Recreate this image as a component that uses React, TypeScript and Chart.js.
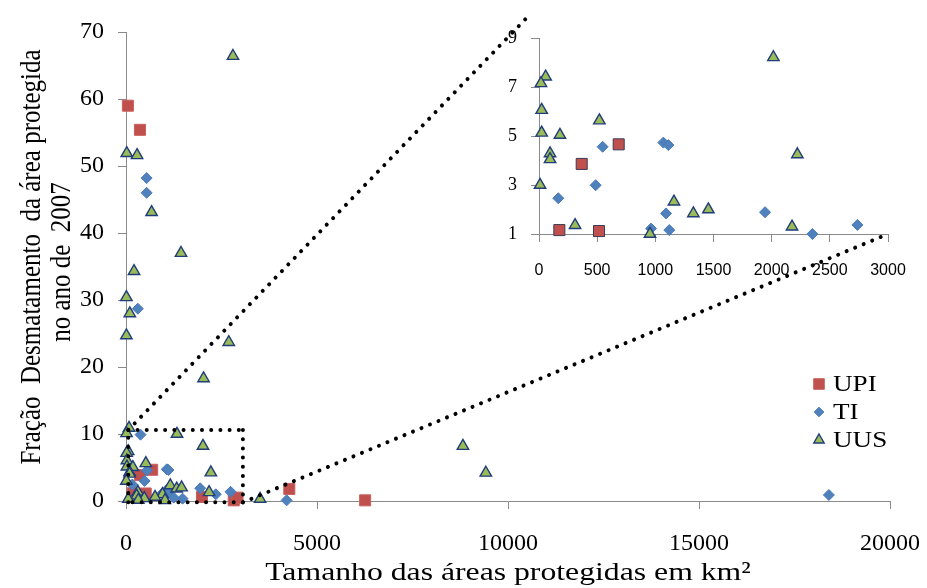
import React, { useEffect, useRef } from 'react';
import { Chart, registerables } from 'chart.js';
import { drawPoint } from 'chart.js/helpers';

Chart.register(...registerables);

// ---- data ----
const seriesNames = ['UPI', 'TI', 'UUS'];
const xTickValues = [0, 5000, 10000, 15000, 20000];
const yTickValues = [0, 10, 20, 30, 40, 50, 60, 70];
const insetXTickValues = [0, 500, 1000, 1500, 2000, 2500, 3000];
const insetYTickValues = [1, 3, 5, 7, 9];

const upiX = [50, 366, 175, 367, 516, 685, 1990, 2820, 2920, 4275, 6260];
const upiY = [59.0, 55.4, 1.16, 3.86, 1.12, 4.66, 0.6, 0.1, 0.5, 1.8, 0.1];

const tiX = [540, 540, 310, 380, 166, 487, 547, 963, 1069, 1112, 1092, 1120, 1943, 2350, 2737, 1480, 1250, 4205, 18400];
const tiY = [48.2, 46.0, 28.7, 9.9, 2.46, 2.99, 4.56, 1.22, 4.73, 4.63, 1.84, 1.16, 1.89, 1.0, 1.37, 0.35, 0.5, 0.1, 0.9];

const uusX = [2800, 20, 290, 670, 1440, 210, 10, 100, 10, 2690, 2030, 80, 15, 1335, 2015, 57, 17, 23, 23, 180, 95, 95, 9, 310, 519, 954, 1160, 1327, 1456, 2175, 2221, 3510, 8820, 9420, 280, 480, 760, 322, 1020, 60];
const uusY = [66.4, 51.9, 51.6, 43.1, 37.0, 34.3, 30.4, 28.0, 24.7, 23.7, 18.3, 10.9, 10.1, 10.0, 8.21, 7.42, 7.15, 6.06, 5.13, 5.04, 4.29, 4.05, 3.0, 1.36, 5.63, 1.0, 2.32, 1.84, 2.0, 1.3, 4.25, 0.3, 8.2, 4.2, 0.8, 0.4, 0.6, 0.15, 0.1, 0.3];

const yTitleLines = ['Fração  Desmatamento  da área protegida', 'no ano de  2007'];
const xTitle = 'Tamanho das áreas protegidas em km²';

// zoom box on main chart (main data coords) and connector ends (inset data coords)
const zoomBox = { x0: 60, x1: 3060, y0: -0.2, y1: 10.6 };
const connectTop = { x: -80, y: 9.95 };
const connectBottom = { x: 3000, y: 1 };

// ---- styles ----
const W = 927;
const H = 588;
const SERIF = '"Liberation Serif", "Times New Roman", serif';
const SANS = '"Liberation Sans", Arial, sans-serif';
const AXIS = '#8a8a8a';
const STRETCH = 1.18;
const TITLE_STRETCH = 1.22;

const styles = [
  { pointStyle: 'rect', radius: 7.8, bg: '#C0504D', border: '#C8605D', insetBorder: '#3A3A55', bw: 1, legendR: 7.5, order: 2 },
  { pointStyle: 'rectRot', radius: 5.5, bg: '#4F81BD', border: '#4A7AB8', insetBorder: '#4A7AB8', bw: 1, legendR: 4.8, order: 1 },
  { pointStyle: 'triangle', radius: 6.6, bg: '#9BBB59', border: '#1F3D7A', insetBorder: '#1F3D7A', bw: 1.4, legendR: 6, order: 0 },
];

const seriesX = [upiX, tiX, uusX];
const seriesY = [upiY, tiY, uusY];

const points = (i: number) => seriesX[i].map((x, k) => ({ x, y: seriesY[i][k] }));
const inInset = (p: { x: number; y: number }) => p.x <= 3000 && p.y >= 0.95 && p.y <= 9;

function makeDatasets(inset: boolean) {
  return seriesNames.map((name, i) => {
    const s = styles[i];
    const data = inset ? points(i).filter(inInset) : points(i);
    return {
      label: name,
      data,
      showLine: false,
      pointStyle: s.pointStyle,
      pointRadius: s.radius,
      pointHoverRadius: s.radius,
      pointBackgroundColor: s.bg,
      pointBorderColor: inset ? s.insetBorder : s.border,
      pointBorderWidth: s.bw,
      backgroundColor: s.bg,
      borderColor: inset ? s.insetBorder : s.border,
      clip: false as any,
      order: s.order,
    };
  });
}

const tickSetter = (vals: number[]) => (scale: any) => {
  scale.ticks = vals.map((v) => ({ value: v }));
};
const plain = (v: any) => String(v);
const noPadX = (h: number) => (s: any) => {
  s.height = h;
  s.paddingLeft = 0;
  s.paddingRight = 0;
};
const noPadY = (w: number) => (s: any) => {
  s.width = w;
  s.paddingTop = 0;
  s.paddingBottom = 0;
};

function stretchedText(ctx: CanvasRenderingContext2D, text: string, x: number, y: number, k: number) {
  ctx.save();
  ctx.translate(x, y);
  ctx.scale(k, 1);
  ctx.fillText(text, 0, 0);
  ctx.restore();
}

const mainDecor = {
  id: 'mainDecor',
  afterDraw(chart: any) {
    const ctx = chart.ctx as CanvasRenderingContext2D;
    const area = chart.chartArea;
    ctx.save();
    ctx.fillStyle = '#000';
    // y title (two rotated lines)
    ctx.font = `25px ${SERIF}`;
    ctx.textAlign = 'center';
    ctx.textBaseline = 'middle';
    const centers = [
      { x: 32, y: 257 },
      { x: 62, y: 262 },
    ];
    yTitleLines.forEach((t, i) => {
      ctx.save();
      ctx.translate(centers[i].x, centers[i].y);
      ctx.rotate(-Math.PI / 2);
      ctx.scale(1, STRETCH);
      ctx.fillText(t, 0, 0);
      ctx.restore();
    });
    // x title
    ctx.font = `26px ${SERIF}`;
    ctx.textBaseline = 'alphabetic';
    stretchedText(ctx, xTitle, (area.left + area.right) / 2, 580, TITLE_STRETCH);
    // legend
    const lx = 819;
    const ly = 384;
    const step = 28;
    ctx.font = `23px ${SERIF}`;
    ctx.textAlign = 'left';
    ctx.textBaseline = 'middle';
    seriesNames.forEach((name, i) => {
      const s = styles[i];
      ctx.fillStyle = s.bg;
      ctx.strokeStyle = s.border;
      ctx.lineWidth = s.bw;
      drawPoint(ctx, { pointStyle: s.pointStyle as any, radius: s.legendR, rotation: 0, borderWidth: s.bw }, lx, ly + i * step);
      ctx.fillStyle = '#000';
      stretchedText(ctx, name, lx + 14, ly + i * step + 1, STRETCH);
    });
    ctx.restore();
  },
};

export default function App() {
  const mainRef = useRef<HTMLCanvasElement>(null);
  const insetRef = useRef<HTMLCanvasElement>(null);

  useEffect(() => {
    document.body.style.margin = '0';
    const tickFont = { family: SERIF, size: 24 };

    const main = new Chart(mainRef.current as HTMLCanvasElement, {
      type: 'scatter',
      data: { datasets: makeDatasets(false) as any },
      options: {
        animation: false,
        responsive: false,
        maintainAspectRatio: false,
        events: [],
        layout: { padding: { left: 0, top: 32, right: 37, bottom: 0 } },
        plugins: { legend: { display: false }, tooltip: { enabled: false } },
        scales: {
          x: {
            type: 'linear',
            min: 0,
            max: 20000,
            afterBuildTicks: tickSetter(xTickValues),
            afterFit: noPadX(87),
            grid: { display: true, drawOnChartArea: false, drawTicks: true, tickLength: 8, color: AXIS },
            border: { display: true, color: AXIS, width: 1 },
            ticks: { font: tickFont, color: '#000', padding: 20, maxRotation: 0, autoSkip: false, callback: plain },
          },
          y: {
            type: 'linear',
            min: 0,
            max: 70,
            afterBuildTicks: tickSetter(yTickValues),
            afterFit: noPadY(126),
            grid: { display: true, drawOnChartArea: false, drawTicks: true, tickLength: 8, color: AXIS },
            border: { display: true, color: AXIS, width: 1 },
            ticks: { font: tickFont, color: '#000', padding: 14, autoSkip: false, callback: plain },
          },
        },
      },
      plugins: [mainDecor],
    });

    const connectors = {
      id: 'connectors',
      afterDraw(chart: any) {
        const ctx = chart.ctx as CanvasRenderingContext2D;
        const mx = main.scales.x;
        const my = main.scales.y;
        const ix = chart.scales.x;
        const iy = chart.scales.y;
        const rx0 = mx.getPixelForValue(zoomBox.x0);
        const rx1 = mx.getPixelForValue(zoomBox.x1);
        const ry0 = my.getPixelForValue(zoomBox.y0);
        const ry1 = my.getPixelForValue(zoomBox.y1);
        ctx.save();
        ctx.strokeStyle = '#000';
        ctx.lineWidth = 4;
        ctx.lineCap = 'round';
        ctx.setLineDash([0.01, 9.2]);
        const seg = (x0: number, y0: number, x1: number, y1: number) => {
          ctx.beginPath();
          ctx.moveTo(x0, y0);
          ctx.lineTo(x1, y1);
          ctx.stroke();
        };
        seg(rx0, ry1, rx1, ry1);
        seg(rx1, ry1, rx1, ry0);
        seg(rx1, ry0, rx0, ry0);
        seg(rx0, ry0, rx0, ry1);
        seg(rx0, ry1, ix.getPixelForValue(connectTop.x), iy.getPixelForValue(connectTop.y));
        seg(rx1, ry0, ix.getPixelForValue(connectBottom.x), iy.getPixelForValue(connectBottom.y));
        ctx.restore();
      },
    };

    const inset = new Chart(insetRef.current as HTMLCanvasElement, {
      type: 'scatter',
      data: { datasets: makeDatasets(true) as any },
      options: {
        animation: false,
        responsive: false,
        maintainAspectRatio: false,
        events: [],
        layout: { padding: { left: 479, top: 38, right: 39, bottom: 304 } },
        plugins: { legend: { display: false }, tooltip: { enabled: false } },
        scales: {
          x: {
            type: 'linear',
            min: 0,
            max: 3000,
            afterBuildTicks: tickSetter(insetXTickValues),
            afterFit: noPadX(50),
            grid: { display: true, drawOnChartArea: false, drawTicks: true, tickLength: 8, color: AXIS },
            border: { display: true, color: AXIS, width: 1 },
            ticks: { font: { family: SANS, size: 16 }, color: '#000', padding: 19, maxRotation: 0, autoSkip: false, callback: plain },
          },
          y: {
            type: 'linear',
            min: 1,
            max: 9,
            afterBuildTicks: tickSetter(insetYTickValues),
            afterFit: noPadY(60),
            grid: { display: true, drawOnChartArea: false, drawTicks: true, tickLength: 8, color: AXIS },
            border: { display: true, color: AXIS, width: 1 },
            ticks: { font: { family: SERIF, size: 18 }, color: '#000', padding: 14, autoSkip: false, callback: plain },
          },
        },
      },
      plugins: [connectors],
    });

    return () => {
      inset.destroy();
      main.destroy();
    };
  }, []);

  return (
    <div style={{ position: 'relative', width: W, height: H }}>
      <canvas ref={mainRef} width={W} height={H} style={{ position: 'absolute', left: 0, top: 0 }} />
      <canvas ref={insetRef} width={W} height={H} style={{ position: 'absolute', left: 0, top: 0 }} />
    </div>
  );
}
